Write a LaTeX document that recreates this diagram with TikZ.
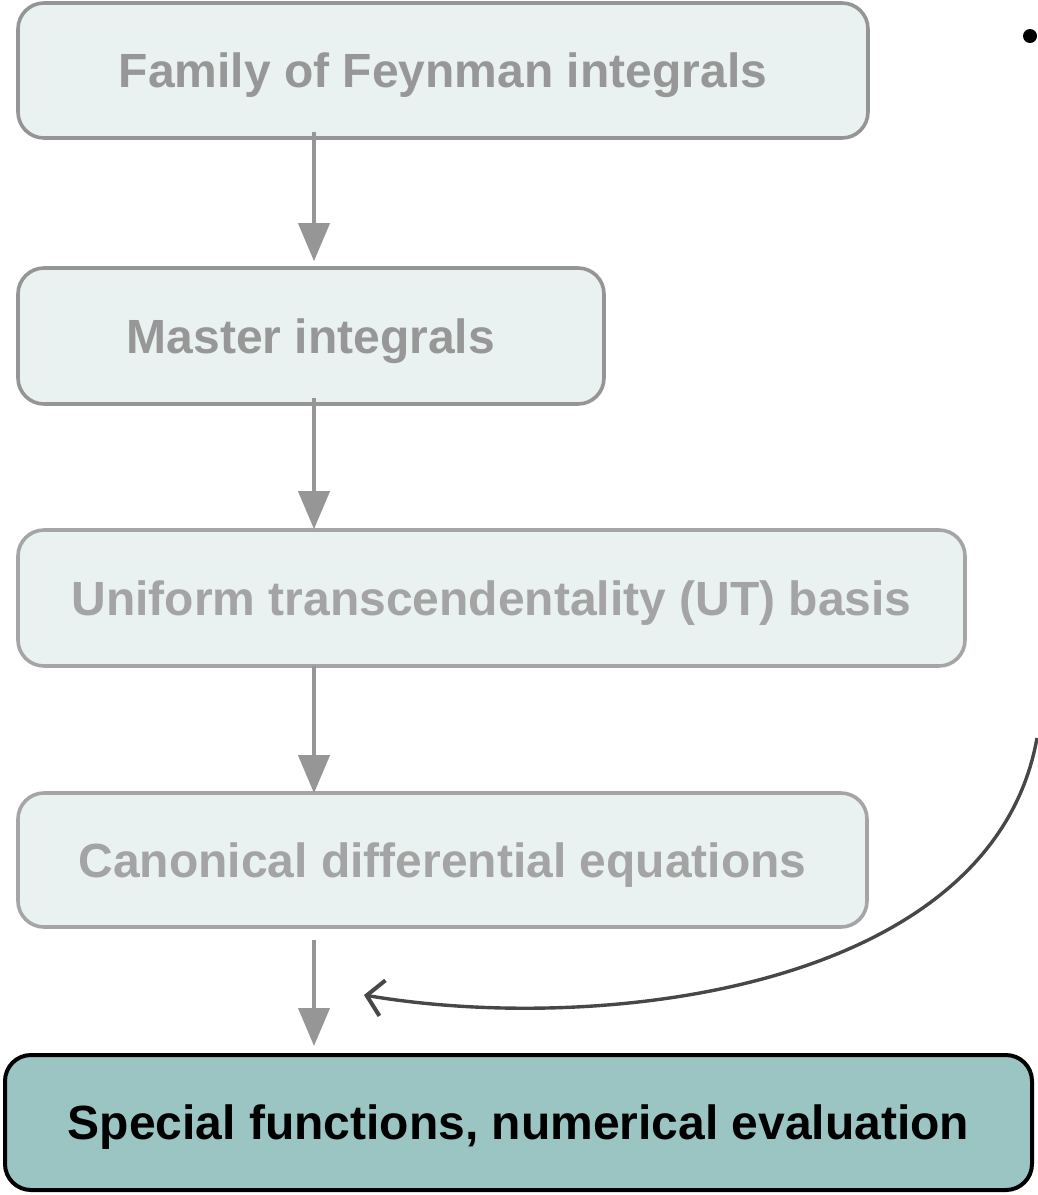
\documentclass[tikz,border=0pt]{standalone}
\usepackage{fontspec}
\setmainfont{Liberation Sans}
\usetikzlibrary{arrows.meta}

\definecolor{boxfill}{HTML}{E9F2F1}
\definecolor{boxline}{HTML}{959595}
\definecolor{boxtext}{HTML}{979797}
\definecolor{lighttext}{HTML}{A4A4A4}
\definecolor{endfill}{HTML}{9AC5C3}
\definecolor{flowgray}{HTML}{969696}
\definecolor{curvegray}{HTML}{474747}

\tikzset{
  stagebox/.style={draw=boxline, line width=3.6pt, fill=boxfill, rounded corners=26pt,
    inner sep=0pt, text=boxtext, text height=34pt, text depth=0pt,
    font=\fontsize{48}{57}\selectfont\bfseries},
  finalbox/.style={stagebox, draw=black, line width=4pt, fill=endfill, text=black},
  flow/.style={draw=flowgray, line width=4pt,
    -{Triangle[width=31pt,length=38pt]}, fill=flowgray},
  feedback/.style={draw=curvegray, line width=3.4pt,
    -{Straight Barb[length=16pt,width=36pt,line width=4pt]}},
}

\begin{document}
\begin{tikzpicture}[x=1pt,y=-1pt]
\useasboundingbox (0,0) rectangle (1037,1195);

\node[stagebox, minimum width=850pt, minimum height=135pt] (fam) at (443,70.5)
  {Family of Feynman integrals};
\node[stagebox, minimum width=586pt, minimum height=136pt] (mi) at (311,336)
  {Master integrals};
\node[stagebox, draw=boxline!85, text=lighttext, minimum width=947pt, minimum height=136pt] (ut) at (491.5,598)
  {Uniform transcendentality (UT) basis};
\node[stagebox, draw=boxline!85, text=lighttext, minimum width=849pt, minimum height=134pt] (cde) at (442.5,860)
  {Canonical differential equations};
\node[finalbox, minimum width=1027pt, minimum height=135pt] (sf) at (518.5,1122.5)
  {Special functions, numerical evaluation};

% vertical flow of the pipeline
\coordinate (axis) at (314,0);
\draw[flow, shorten <=-8pt, shorten >=5pt] (fam.south -| axis) -- (mi.north -| axis);
\draw[flow, shorten <=-8pt, shorten >=-1pt] (mi.south -| axis) -- (ut.north -| axis);
\draw[flow, shorten <=-2pt, shorten >=-2pt] (ut.south -| axis) -- (cde.north -| axis);
\draw[flow, shorten <=11pt, shorten >=7pt] (cde.south -| axis) -- (sf.north -| axis);

% bullet and the curved feedback arrow
\fill (1030,36) circle (7pt);
\coordinate (cstart) at (1037,738);
\coordinate (ctip) at (364,995);
\draw[feedback] (cstart) .. controls (992,990) and (600,1035) .. (ctip);
\end{tikzpicture}
\end{document}
